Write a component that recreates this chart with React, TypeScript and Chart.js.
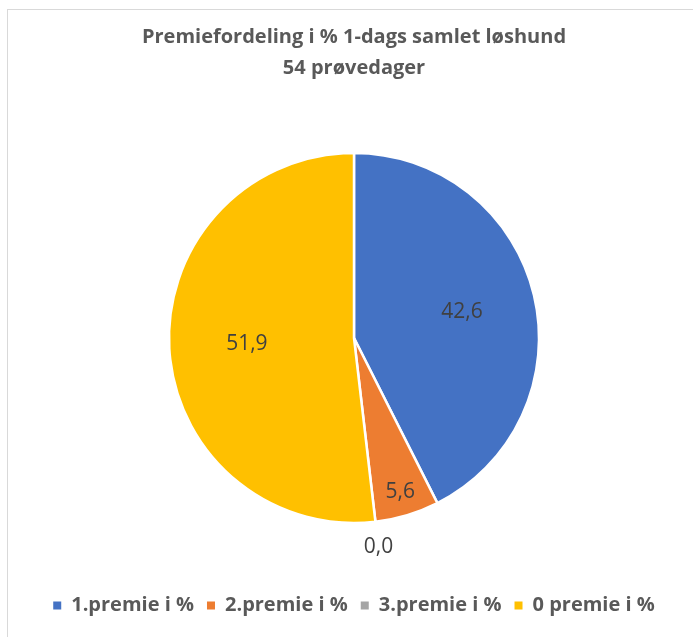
import React, { useEffect, useRef } from "react";
import { Chart, registerables } from "chart.js";

Chart.register(...registerables);

const categories = ["1.premie i %", "2.premie i %", "3.premie i %", "0 premie i %"];
const values = [42.6, 5.6, 0.0, 51.9];
const colors = ["#4472C4", "#ED7D31", "#A5A5A5", "#FFC000"];
const titleLines = ["Premiefordeling i % 1-dags samlet løshund", "54 prøvedager"];
const labelRadii = [0.6, 0.87, 1.14, 0.58];

const FONT = "'Open Sans', 'Noto Sans', sans-serif";

const labelPlugin = {
  id: "sliceLabels",
  afterDatasetsDraw(chart: any) {
    const ctx = chart.ctx;
    const meta = chart.getDatasetMeta(0);
    ctx.save();
    ctx.font = `21px ${FONT}`;
    ctx.fillStyle = "#404040";
    ctx.textAlign = "center";
    ctx.textBaseline = "middle";
    meta.data.forEach((arc: any, i: number) => {
      const { x, y, startAngle, endAngle, outerRadius } = arc.getProps(
        ["x", "y", "startAngle", "endAngle", "outerRadius"],
        true
      );
      const mid = (startAngle + endAngle) / 2;
      const r = outerRadius * labelRadii[i];
      ctx.fillText(values[i].toFixed(1).replace(".", ","), x + Math.cos(mid) * r, y + Math.sin(mid) * r);
    });
    ctx.restore();
  },
};

export default function App() {
  const ref = useRef<HTMLCanvasElement>(null);
  useEffect(() => {
    if (!ref.current) return;
    const chart = new Chart(ref.current, {
      type: "pie",
      data: {
        labels: categories,
        datasets: [
          {
            data: values,
            backgroundColor: colors,
            borderColor: "#ffffff",
            borderWidth: 2.5,
            radius: 185,
          } as any,
        ],
      },
      options: {
        responsive: false,
        animation: false,
        layout: { padding: { bottom: 11.5 } },
        plugins: {
          title: {
            display: true,
            text: titleLines,
            color: "#595959",
            font: { family: FONT, size: 20, weight: "bold", lineHeight: 1.55 },
            padding: { top: 11.5, bottom: 10 },
          },
          legend: {
            position: "bottom",
            labels: {
              boxWidth: 8,
              boxHeight: 8,
              color: "#595959",
              font: { family: FONT, size: 20, weight: "bold" },
              padding: 13,
              generateLabels: () =>
                categories.map((c, i) => ({
                  text: c,
                  fillStyle: colors[i],
                  strokeStyle: colors[i],
                  lineWidth: 0,
                  hidden: false,
                  index: i,
                  fontColor: "#595959",
                })),
            },
          },
          tooltip: { enabled: false },
        },
      } as any,
      plugins: [labelPlugin],
    });
    return () => chart.destroy();
  }, []);

  return (
    <div
      style={{
        position: "fixed",
        left: 0,
        top: 0,
        width: 693,
        height: 637,
        overflow: "hidden",
        background: "#ffffff",
      }}
    >
      <div
        style={{
          position: "absolute",
          left: 7,
          top: 9,
          width: 720,
          height: 660,
          border: "1px solid #d9d9d9",
          boxSizing: "border-box",
        }}
      />
      <canvas
        ref={ref}
        width={692}
        height={627}
        style={{ position: "absolute", left: 8, top: 10, width: 692, height: 627 }}
      />
    </div>
  );
}
